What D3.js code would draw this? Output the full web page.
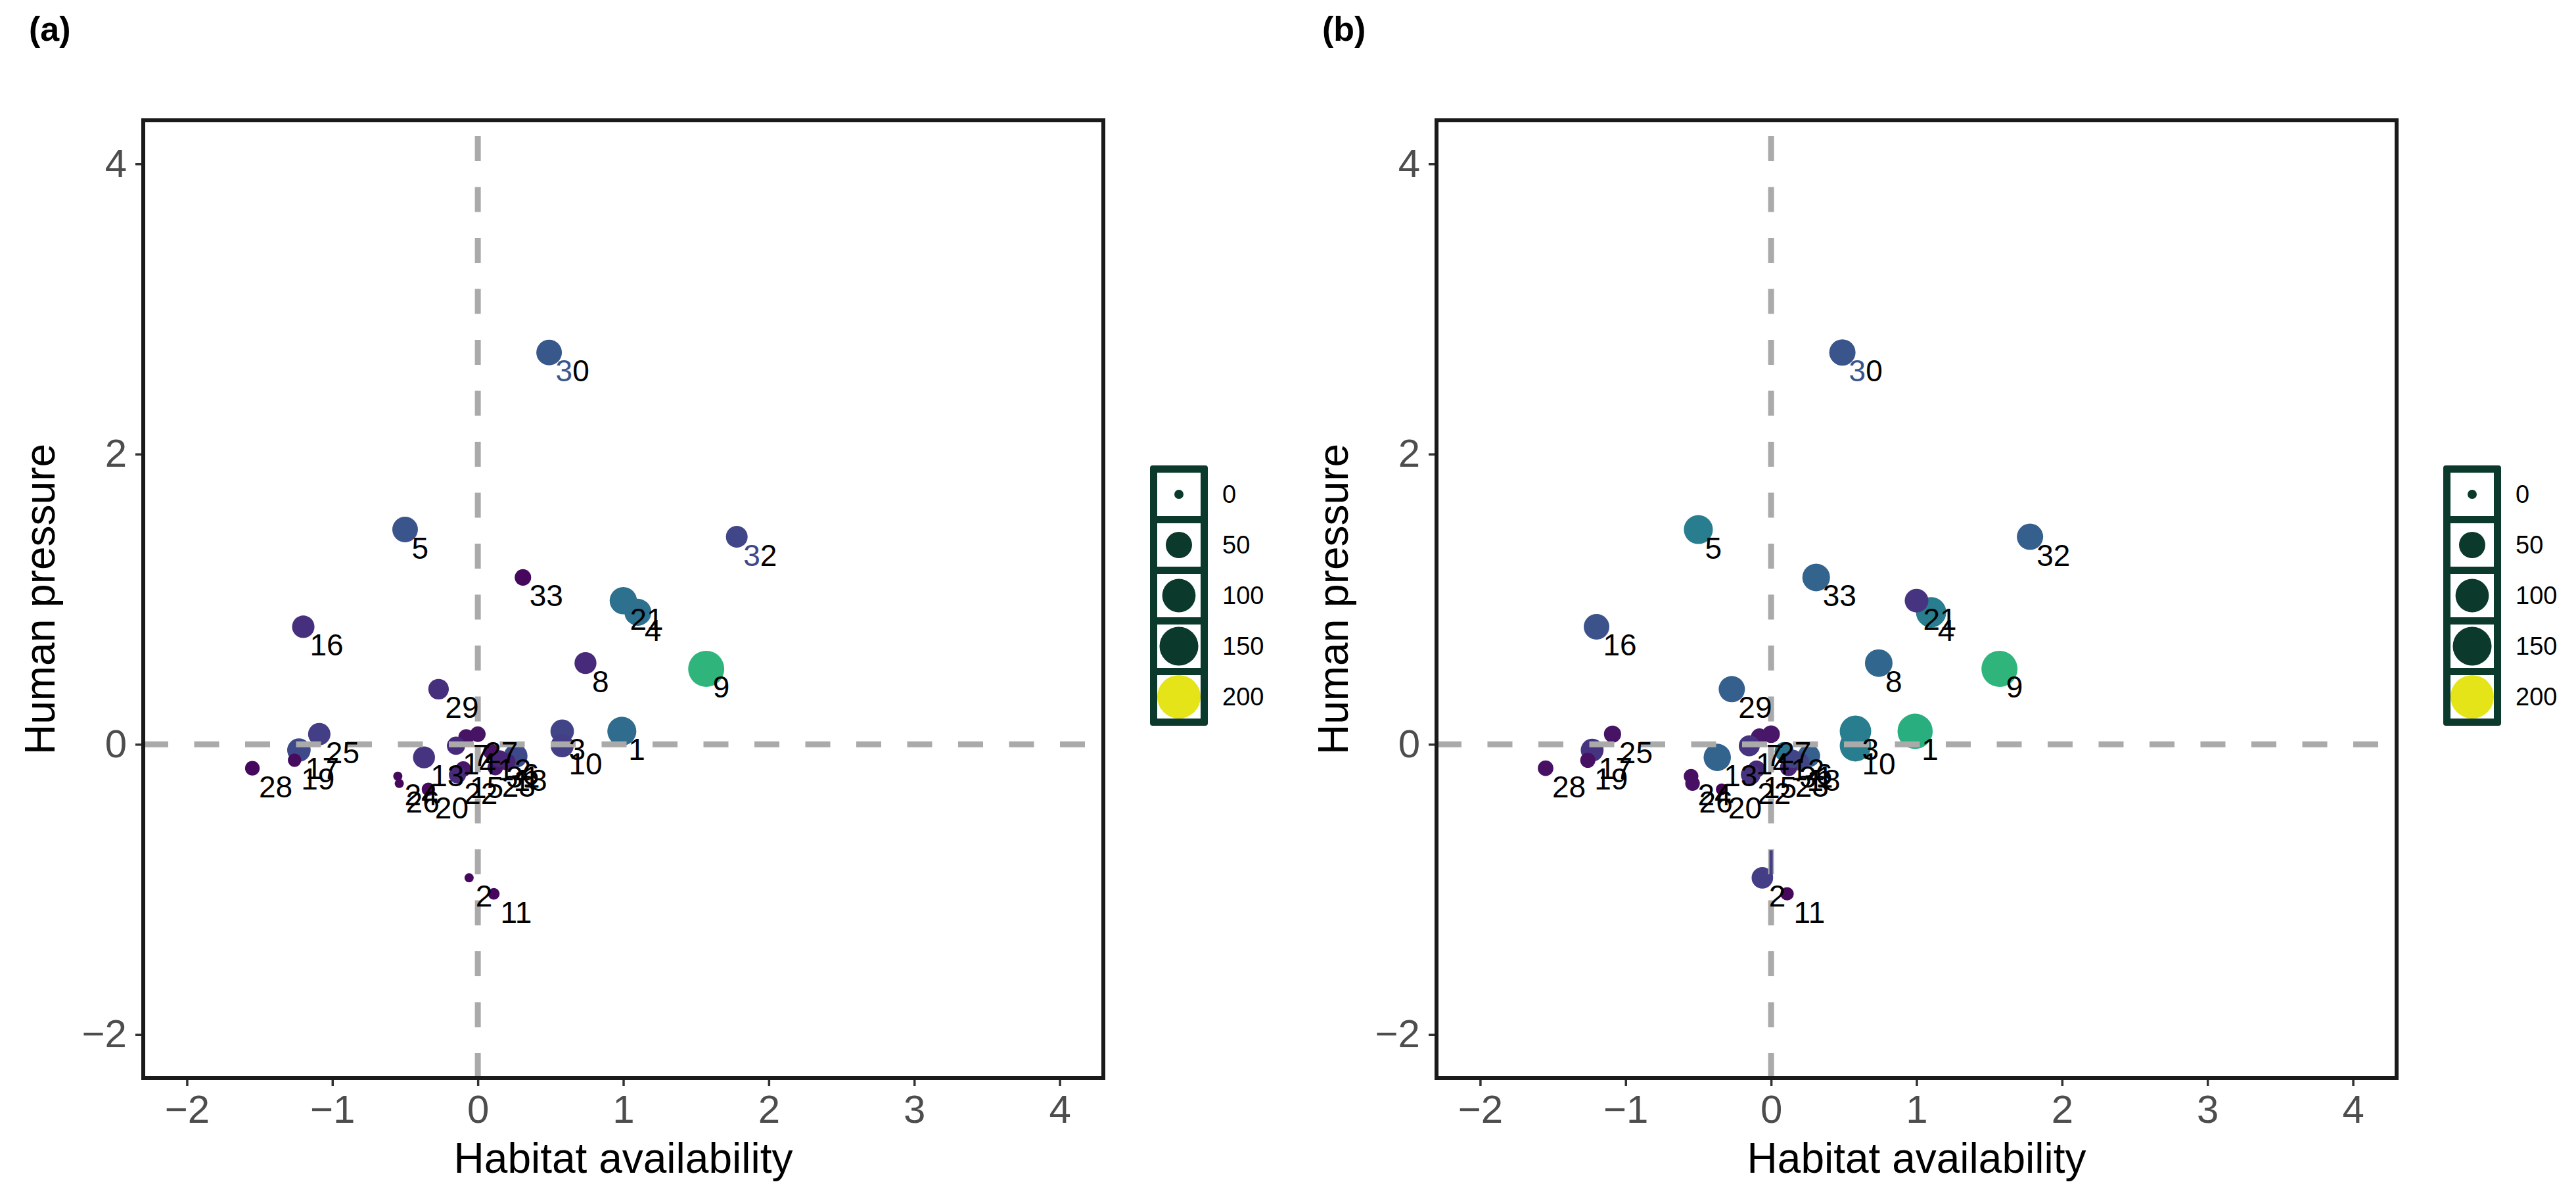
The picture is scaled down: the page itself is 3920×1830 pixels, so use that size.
<!DOCTYPE html>
<html>
<head>
<meta charset="utf-8">
<script src="https://cdn.jsdelivr.net/npm/d3@7"></script>
<style>
  body { margin: 0; background: #fff; }
  svg { display: block; }
  text { font-family: 'Liberation Sans', Arial, Helvetica, sans-serif; }
</style>
</head>
<body>
<svg id="chart" width="3920" height="1830"></svg>
<script>
// site numbers, same positions in both panels
const sites = d3.range(1, 34);
const habitat = [0.99, -0.06, 0.58, 1.10, -0.50, 0.26, -0.08, 0.74, 1.57, 0.58,
                 0.11, 0.09, -0.37, -0.15, -0.10, -1.20, -1.23, 0.20, -1.26, -0.34,
                 1.00, -0.14, 0.12, -0.55, -1.09, -0.54, 0.00, -1.55, -0.27, 0.49,
                 0.15, 1.78, 0.31];
const pressure = [0.09, -0.92, 0.09, 0.91, 1.48, -0.08, 0.05, 0.56, 0.52, -0.01,
                  -1.03, -0.05, -0.09, -0.01, -0.17, 0.81, -0.04, -0.12, -0.11, -0.31,
                  0.99, -0.21, -0.16, -0.22, 0.07, -0.27, 0.07, -0.165, 0.38, 2.70,
                  -0.10, 1.43, 1.15];

// panel (a) values
const sizeA = [67, 0, 35, 54, 46, 36, 7, 28, 124, 33,
               1, 7, 28, 14, 7, 30, 35, 11, 3, 3,
               56, 11, 7, 0, 30, 0, 7, 5, 22, 46,
               11, 27, 9];
const colourA = [70, 4, 40, 74, 52, 44, 10, 24, 130, 36,
                 4, 10, 30, 24, 12, 28, 44, 20, 6, 6,
                 74, 24, 12, 4, 36, 4, 10, 4, 28, 54,
                 20, 42, 4];

// panel (b) values
const sizeB = [116, 26, 85, 76, 67, 30, 11, 58, 124, 85,
               3, 17, 56, 24, 11, 46, 32, 14, 6, 1,
               36, 19, 11, 5, 11, 5, 12, 7, 50, 50,
               14, 50, 58];
const colourB = [126, 36, 84, 84, 84, 60, 12, 66, 130, 84,
                 4, 76, 64, 30, 24, 50, 30, 40, 8, 2,
                 30, 30, 20, 8, 10, 8, 12, 8, 60, 52,
                 40, 60, 64];

// labels whose first digit shows the point colour
const tintedA = [30, 32];
const tintedB = [30];

const legendBreaks = [0, 50, 100, 150, 200];
const xTicks = [-2, -1, 0, 1, 2, 3, 4];
const yTicks = [-2, 0, 2, 4];

const svg = d3.select('#chart');
const panelW = 1461, panelH = 1457, panelTop = 183;
const fmt = d => d < 0 ? '\u2212' + Math.abs(d) : String(d);

const x = d3.scaleLinear().domain([-2.3, 4.3]).range([0, panelW]);
const y = d3.scaleLinear().domain([-2.3, 4.3]).range([panelH, 0]);
const r = d3.scaleSqrt().domain([0, 200]).range([7, 33]);
const colour = d3.scaleSequential(d3.interpolateViridis).domain([0, 200]);

function drawPanel(left, tag, sizes, colours, tinted, streak) {
    let data = sites.map((s, i) => ({id: s, hx: habitat[i], hy: pressure[i], size: sizes[i], col: colours[i]}));

    svg.append('text')
        .attr('x', left - 174)
        .attr('y', 62)
        .attr('font-size', 52)
        .attr('font-weight', 'bold')
        .text(tag);

    let g = svg.append('g').attr('transform', `translate(${left},${panelTop})`);

    g.append('rect')
        .attr('width', panelW)
        .attr('height', panelH)
        .attr('fill', '#fff');

    g.selectAll('circle')
        .data(data)
        .enter()
        .append('circle')
        .attr('cx', d => x(d.hx))
        .attr('cy', d => y(d.hy))
        .attr('r', d => r(d.size))
        .attr('fill', d => colour(d.col));

    // reference lines, drawn over the points
    g.append('line')
        .attr('x1', 0).attr('x2', panelW)
        .attr('y1', y(0)).attr('y2', y(0))
        .attr('stroke', '#aaaaaa')
        .attr('stroke-width', 9)
        .attr('stroke-dasharray', '38 39.5');
    g.append('line')
        .attr('x1', x(0)).attr('x2', x(0))
        .attr('y1', panelH).attr('y2', 0)
        .attr('stroke', '#aaaaaa')
        .attr('stroke-width', 9)
        .attr('stroke-dasharray', '38 39.5');

    // one dash of the vline shows in the colour of site 2 in panel (b)
    if (streak) {
        let d2 = data[1];
        g.append('line')
            .attr('x1', x(0)).attr('x2', x(0))
            .attr('y1', y(d2.hy)).attr('y2', y(-0.73))
            .attr('stroke', colour(d2.col))
            .attr('stroke-width', 5);
    }

    let labels = g.selectAll('.site')
        .data(data)
        .enter()
        .append('text')
        .attr('class', 'site')
        .attr('x', d => x(d.hx) + 10)
        .attr('y', d => y(d.hy) + 44)
        .attr('font-size', 46)
        .attr('fill', '#000');
    labels.each(function(d) {
        let t = d3.select(this);
        let s = String(d.id);
        if (tinted.includes(d.id)) {
            t.append('tspan').attr('fill', colour(d.col)).text(s[0]);
            t.append('tspan').text(s.slice(1));
        } else {
            t.text(s);
        }
    });

    let xAxis = g.append('g')
        .attr('transform', `translate(0,${panelH})`)
        .call(d3.axisBottom(x).tickValues(xTicks).tickSize(12).tickPadding(13).tickFormat(fmt));
    let yAxis = g.append('g')
        .call(d3.axisLeft(y).tickValues(yTicks).tickSize(12).tickPadding(13).tickFormat(fmt));
    [xAxis, yAxis].forEach(a => {
        a.select('.domain').remove();
        a.selectAll('.tick line').attr('stroke', '#333').attr('stroke-width', 3.5);
        a.selectAll('.tick text')
            .attr('fill', '#4d4d4d')
            .attr('font-size', 60)
            .attr('font-family', "'Liberation Sans', Arial, sans-serif");
    });

    g.append('rect')
        .attr('width', panelW)
        .attr('height', panelH)
        .attr('fill', 'none')
        .attr('stroke', '#1a1a1a')
        .attr('stroke-width', 6);

    svg.append('text')
        .attr('x', left + panelW / 2)
        .attr('y', 1784)
        .attr('text-anchor', 'middle')
        .attr('font-size', 64)
        .text('Habitat availability');

    svg.append('text')
        .attr('transform', `translate(${left - 135},${panelTop + panelH / 2}) rotate(-90)`)
        .attr('text-anchor', 'middle')
        .attr('font-size', 64)
        .text('Human pressure');

    drawLegend(left + 1532);
}

function drawLegend(lx) {
    let top = 708, cell = 66, gap = 11;
    let keyFill = '#0b392c';
    let lg = svg.append('g').attr('transform', `translate(${lx},${top})`);

    lg.append('rect')
        .attr('width', cell + 2 * gap)
        .attr('height', legendBreaks.length * (cell + gap) + gap)
        .attr('rx', 4)
        .attr('fill', keyFill);

    let keys = lg.selectAll('.key')
        .data(legendBreaks)
        .enter()
        .append('g')
        .attr('class', 'key')
        .attr('transform', (d, i) => `translate(${gap},${gap + i * (cell + gap)})`);

    keys.append('rect')
        .attr('width', cell)
        .attr('height', cell)
        .attr('fill', '#fff');

    keys.append('circle')
        .attr('cx', cell / 2)
        .attr('cy', cell / 2)
        .attr('r', d => Math.min(r(d), cell / 2))
        .attr('fill', d => d === 200 ? '#e4e418' : keyFill);

    keys.append('text')
        .attr('x', cell + gap + 22)
        .attr('y', cell / 2)
        .attr('dy', '0.35em')
        .attr('font-size', 38)
        .text(d => d);
}

drawPanel(218, '(a)', sizeA, colourA, tintedA, false);
drawPanel(2186, '(b)', sizeB, colourB, tintedB, true);
</script>
</body>
</html>
